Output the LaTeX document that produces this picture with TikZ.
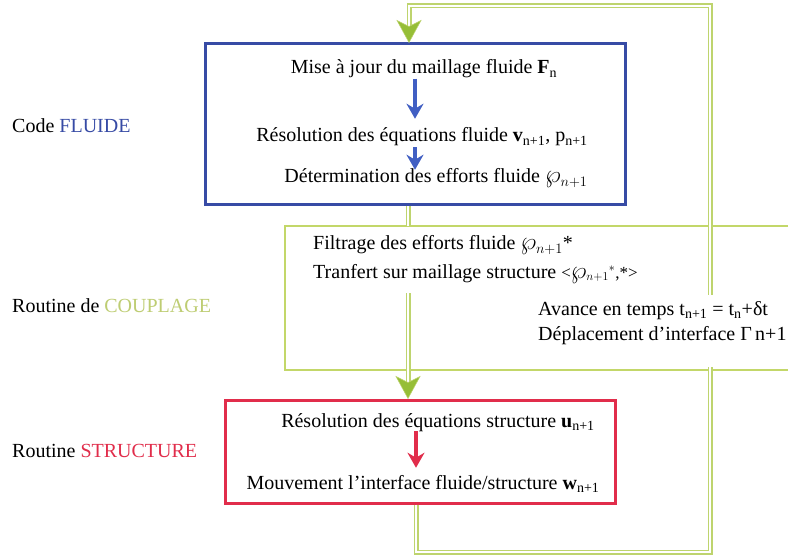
\documentclass[tikz,border=0pt]{standalone}
\usepackage{fontspec}
\setmainfont{Liberation Serif}
\usetikzlibrary{arrows.meta}
\definecolor{fblue}{RGB}{55,75,165}
\definecolor{ablue}{RGB}{65,95,195}
\definecolor{sred}{RGB}{225,45,75}
\definecolor{cgreen}{RGB}{195,215,105}
\definecolor{pgreen}{RGB}{190,212,110}
\definecolor{lgreen}{RGB}{190,205,115}
\definecolor{hgreen}{RGB}{150,190,55}
\tikzset{
  ghead/.pic={\fill[hgreen, draw=pgreen, line width=0.5pt] (0,0) -- (-12,-22) -- (0,-16) -- (12,-22) -- cycle;},
  txt/.style={inner sep=0pt},
  bluebox/.style={draw=fblue, line width=3pt, minimum width=420pt, minimum height=161pt, inner sep=0pt},
  redbox/.style={draw=sred, line width=3pt, minimum width=390pt, minimum height=103pt, inner sep=0pt},
  cframe/.style={draw=cgreen, line width=2.5pt},
  pipe/.style={draw=pgreen, line width=1.3pt, double=white, double distance=2.4pt},
  barrow/.style={draw=ablue, line width=3.5pt, -{Stealth[length=15pt,width=17pt,inset=5pt]}},
  rarrow/.style={draw=sred, line width=3.5pt, -{Stealth[length=15pt,width=17pt,inset=5pt]}},
}
\newcommand{\bigwp}{{\fontsize{24}{24}\selectfont$\wp$}}
\begin{document}
\begin{tikzpicture}[x=1pt,y=-1pt, font=\fontsize{20}{24}\selectfont]
\useasboundingbox[fill=white] (0,0) rectangle (790,556);

% boxes
\node[bluebox] (fluide) at (415,124.5) {};
\node[redbox] (struct) at (420,451.5) {};
\node[minimum width=503pt, minimum height=144pt, inner sep=0pt, outer sep=0pt] (coupl) at (536.5,298) {};
\draw[cframe] (coupl.north east) -- (coupl.north west) -- (coupl.south west) -- (coupl.south east);

% green feedback pipes
\coordinate (c1) at (416,552);
\coordinate (c2) at (710,552);
\coordinate (c3) at (710,6);
\coordinate (c4) at (409,6);
\draw[pipe] ([xshift=-4pt]struct.south) -- (c1) -- (c2) -- (c3) -- (c4) -- ([xshift=-6pt,yshift=16pt]fluide.north);
\pic at ([xshift=-6pt]fluide.north) {ghead};

\draw[pipe] ([xshift=-7pt]fluide.south) -- ([xshift=-7pt]fluide.south |- coupl.north);

\coordinate (c6) at (408,293);
\draw[pipe] (c6) -- ([xshift=-12pt,yshift=16pt]struct.north);
\pic at ([xshift=-12pt]struct.north) {ghead};

% side labels
\node[txt, anchor=base west] (l1) at (12,133) {Code \textcolor{fblue}{FLUIDE}};
\node[txt, anchor=base west] (l2) at (12,312) {Routine de \textcolor{lgreen}{COUPLAGE}};
\node[txt, anchor=base west] (l3) at (12,457) {Routine \textcolor{sred}{STRUCTURE}};

% fluid code
\node[txt, anchor=base] (t1) at (424,74) {Mise à jour du maillage fluide \textbf{F}\textsubscript{n}};
\node[txt, anchor=base] (t2) at (422,142) {Résolution des équations fluide \textbf{v}\textsubscript{n+1}, p\textsubscript{n+1}};
\node[txt, anchor=base] (t3) at (436,183) {Détermination des efforts fluide \bigwp$_{n+1}$};
\draw[barrow, shorten >=9pt] (t1.south -| fluide.center) -- (t2.north -| fluide.center);
\draw[barrow, shorten <=1pt, shorten >=-1pt] (t2.south -| fluide.center) -- (t3.north -| fluide.center);

% coupling routine
\node[txt, anchor=base west] (g1) at (313,250) {Filtrage des efforts fluide \bigwp$_{n+1}$*};
\node[txt, anchor=base west] (g2) at (313,278) {Tranfert sur maillage structure {\fontsize{17}{18}\selectfont<\bigwp$_{n+1}{}^{*}$,*>}};
\node[txt, anchor=base west, fill=white, inner xsep=2pt] (g3) at (536,315)
  {\parbox[t][72pt][t]{254pt}{\fontsize{20}{25}\selectfont\rule{0pt}{20pt}Avance en temps t\textsubscript{n+1} = t\textsubscript{n}+δt\\
   Déplacement d'interface Γ\,n+1}};

% structure routine
\node[txt, anchor=base] (r1) at (438,427) {Résolution des équations structure \textbf{u}\textsubscript{n+1}};
\node[txt, anchor=base] (r2) at (423,489) {Mouvement l'interface fluide/structure \textbf{w}\textsubscript{n+1}};
\draw[rarrow, shorten >=7pt] ([xshift=-4pt]r1.south -| struct.center) -- ([xshift=-4pt]r2.north -| struct.center);
\end{tikzpicture}
\end{document}
